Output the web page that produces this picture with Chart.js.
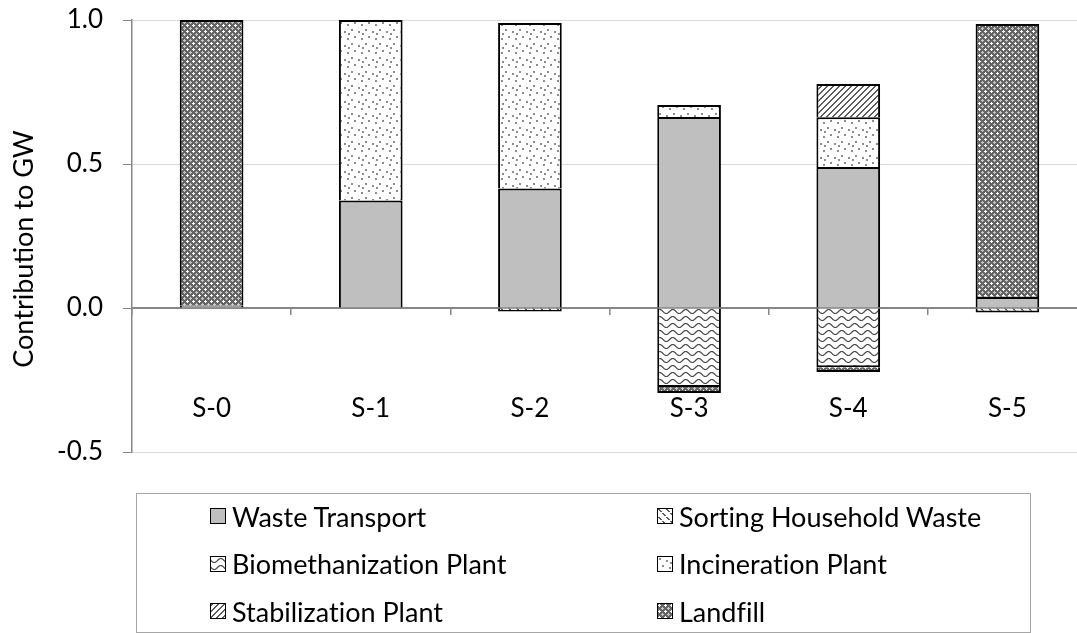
<!DOCTYPE html>
<html>
<head>
<meta charset="utf-8">
<title>Contribution to GW</title>
<script src="https://cdn.jsdelivr.net/npm/chart.js@4.4.1/dist/chart.umd.min.js"></script>
<style>
    html, body { margin: 0; padding: 0; background: #fff; overflow: hidden; }
    #wrap { position: relative; width: 1077px; height: 633px; overflow: hidden; }
    #chart { position: absolute; left: 0; top: 0; }
    #legend {
        position: absolute; left: 136px; top: 493px; width: 895px; height: 140px;
        border: 1px solid #a6a6a6; box-sizing: border-box;
        font-family: Lato, sans-serif; font-size: 27px; color: #000;
        font-variant-ligatures: none;
    }
    .legend-item { position: absolute; display: flex; align-items: center; height: 32px; white-space: nowrap; }
    .legend-item canvas { width: 14px; height: 14px; border: 1.5px solid #000; margin-right: 6px; }
</style>
</head>
<body>
<div id="wrap">
    <canvas id="chart" width="1100" height="633"></canvas>
    <div id="legend"></div>
</div>
<script>
(function () {
    'use strict';

    var categories = ['S-0', 'S-1', 'S-2', 'S-3', 'S-4', 'S-5'];
    var wasteTransport = [0.008, 0.373, 0.415, 0.663, 0.490, 0.038];
    var sortingHouseholdWaste = [null, null, -0.012, null, null, -0.016];
    var biomethanizationPlant = [null, null, null, -0.274, -0.206, null];
    var incinerationPlant = [null, 0.627, 0.575, 0.042, 0.172, null];
    var stabilizationPlant = [null, null, null, null, 0.116, 0.004];
    var landfill = [0.992, null, null, -0.021, -0.016, 0.944];
    var yTicks = [-0.5, 0, 0.5, 1.0];

    var FONT = 'Lato, sans-serif';

    // small tiles turned into canvas patterns (Excel-style fills)
    function tile(w, h, paint) {
        var c = document.createElement('canvas');
        c.width = w;
        c.height = h;
        var g = c.getContext('2d');
        g.fillStyle = '#fff';
        g.fillRect(0, 0, w, h);
        paint(g, w, h);
        return c;
    }

    function pixels(g, color, test, w, h) {
        g.fillStyle = color;
        for (var y = 0; y < h; y++) {
            for (var x = 0; x < w; x++) {
                if (test(x, y)) g.fillRect(x, y, 1, 1);
            }
        }
    }

    var tiles = {
        sorting: tile(8, 8, function (g, w, h) {
            pixels(g, '#5a5a5a', function (x, y) { return ((x - y + 8) % 8) < 2 && (y % 4) !== 3; }, w, h);
        }),
        biomethanization: tile(13, 7, function (g, w) {
            g.strokeStyle = '#4a4a4a';
            g.lineWidth = 1.2;
            g.beginPath();
            for (var x = -1; x <= w + 1; x += 0.5) {
                var y = 3.5 + 2 * Math.sin(2 * Math.PI * x / w);
                if (x === -1) g.moveTo(x, y); else g.lineTo(x, y);
            }
            g.stroke();
        }),
        incineration: tile(14, 14, function (g) {
            g.fillStyle = '#8c8c8c';
            [[1, 1], [8, 3], [4, 8], [11, 10], [12, 5]].forEach(function (p) {
                g.fillRect(p[0], p[1], 2, 2);
            });
        }),
        stabilization: tile(6, 6, function (g, w, h) {
            pixels(g, '#5c5c5c', function (x, y) { return ((x + y) % 6) < 2; }, w, h);
        }),
        landfill: tile(6, 6, function (g, w, h) {
            g.fillStyle = '#646464';
            g.fillRect(0, 0, w, h);
            pixels(g, '#ffffff', function (x, y) {
                return (x === 1 && y <= 2) || (y === 1 && x <= 2);
            }, w, h);
            pixels(g, '#c8c8c8', function (x, y) {
                return (x === 4 && y >= 3 && y <= 5) || (y === 4 && x >= 3 && x <= 5);
            }, w, h);
        })
    };

    function fillFor(ctx, key) {
        if (key === 'solid') return '#bfbfbf';
        return ctx.createPattern(tiles[key], 'repeat');
    }

    var canvas = document.getElementById('chart');
    var ctx = canvas.getContext('2d');

    var series = [
        { label: 'Waste Transport', data: wasteTransport, fill: 'solid' },
        { label: 'Sorting Household Waste', data: sortingHouseholdWaste, fill: 'sorting' },
        { label: 'Biomethanization Plant', data: biomethanizationPlant, fill: 'biomethanization' },
        { label: 'Incineration Plant', data: incinerationPlant, fill: 'incineration' },
        { label: 'Stabilization Plant', data: stabilizationPlant, fill: 'stabilization' },
        { label: 'Landfill', data: landfill, fill: 'landfill' }
    ];

    var yTitle = {
        id: 'yTitle',
        afterDraw: function (chart) {
            var c = chart.ctx;
            c.save();
            c.translate(24, 249);
            c.rotate(-Math.PI / 2);
            c.font = '27px ' + FONT;
            c.fillStyle = '#000';
            c.textAlign = 'center';
            c.textBaseline = 'middle';
            c.fillText('Contribution to GW', 0, 0);
            c.restore();
        }
    };

    new Chart(ctx, {
        type: 'bar',
        data: {
            labels: categories,
            datasets: series.map(function (s) {
                return {
                    label: s.label,
                    data: s.data,
                    backgroundColor: fillFor(ctx, s.fill),
                    borderColor: '#000',
                    borderWidth: 2,
                    categoryPercentage: 1,
                    barPercentage: 0.4
                };
            })
        },
        options: {
            responsive: false,
            animation: false,
            layout: { padding: { left: 0, top: 20, right: 13, bottom: 181 } },
            plugins: {
                legend: { display: false },
                tooltip: { enabled: false }
            },
            scales: {
                x: {
                    stacked: true,
                    position: { y: 0 },
                    z: 1,
                    offset: true,
                    grid: {
                        display: true,
                        drawOnChartArea: false,
                        drawTicks: true,
                        tickLength: 6,
                        offset: true,
                        color: '#868686',
                        lineWidth: 1.5
                    },
                    border: { display: true, color: '#868686', width: 2 },
                    ticks: { padding: 79, color: '#000', font: { family: FONT, size: 26 } },
                    afterFit: function (scale) {
                        scale.height = 0;
                        scale.paddingLeft = 0;
                        scale.paddingRight = 0;
                    }
                },
                y: {
                    stacked: true,
                    min: -0.5,
                    max: 1,
                    afterBuildTicks: function (scale) {
                        scale.ticks = yTicks.map(function (v) { return { value: v }; });
                    },
                    ticks: {
                        padding: 20,
                        color: '#000',
                        font: { family: FONT, size: 26 },
                        callback: function (v) { return Number(v).toFixed(1); }
                    },
                    grid: { color: '#d9d9d9', tickColor: '#868686', tickLength: 9, lineWidth: 1 },
                    border: { display: true, color: '#868686', width: 1.5 },
                    afterFit: function (scale) {
                        scale.width = 132;
                        scale.paddingTop = 0;
                        scale.paddingBottom = 0;
                    }
                }
            }
        },
        plugins: [yTitle]
    });

    // two-column legend box under the plot
    var legend = document.getElementById('legend');
    var colLeft = [73, 520];
    series.forEach(function (s, i) {
        var item = document.createElement('div');
        item.className = 'legend-item';
        item.style.left = colLeft[i % 2] + 'px';
        item.style.top = (6 + Math.floor(i / 2) * 47.5) + 'px';
        var icon = document.createElement('canvas');
        icon.width = 14;
        icon.height = 14;
        var ic = icon.getContext('2d');
        ic.fillStyle = fillFor(ic, s.fill);
        ic.fillRect(0, 0, 14, 14);
        var text = document.createElement('span');
        text.textContent = s.label;
        item.appendChild(icon);
        item.appendChild(text);
        legend.appendChild(item);
    });
}());
</script>
</body>
</html>
